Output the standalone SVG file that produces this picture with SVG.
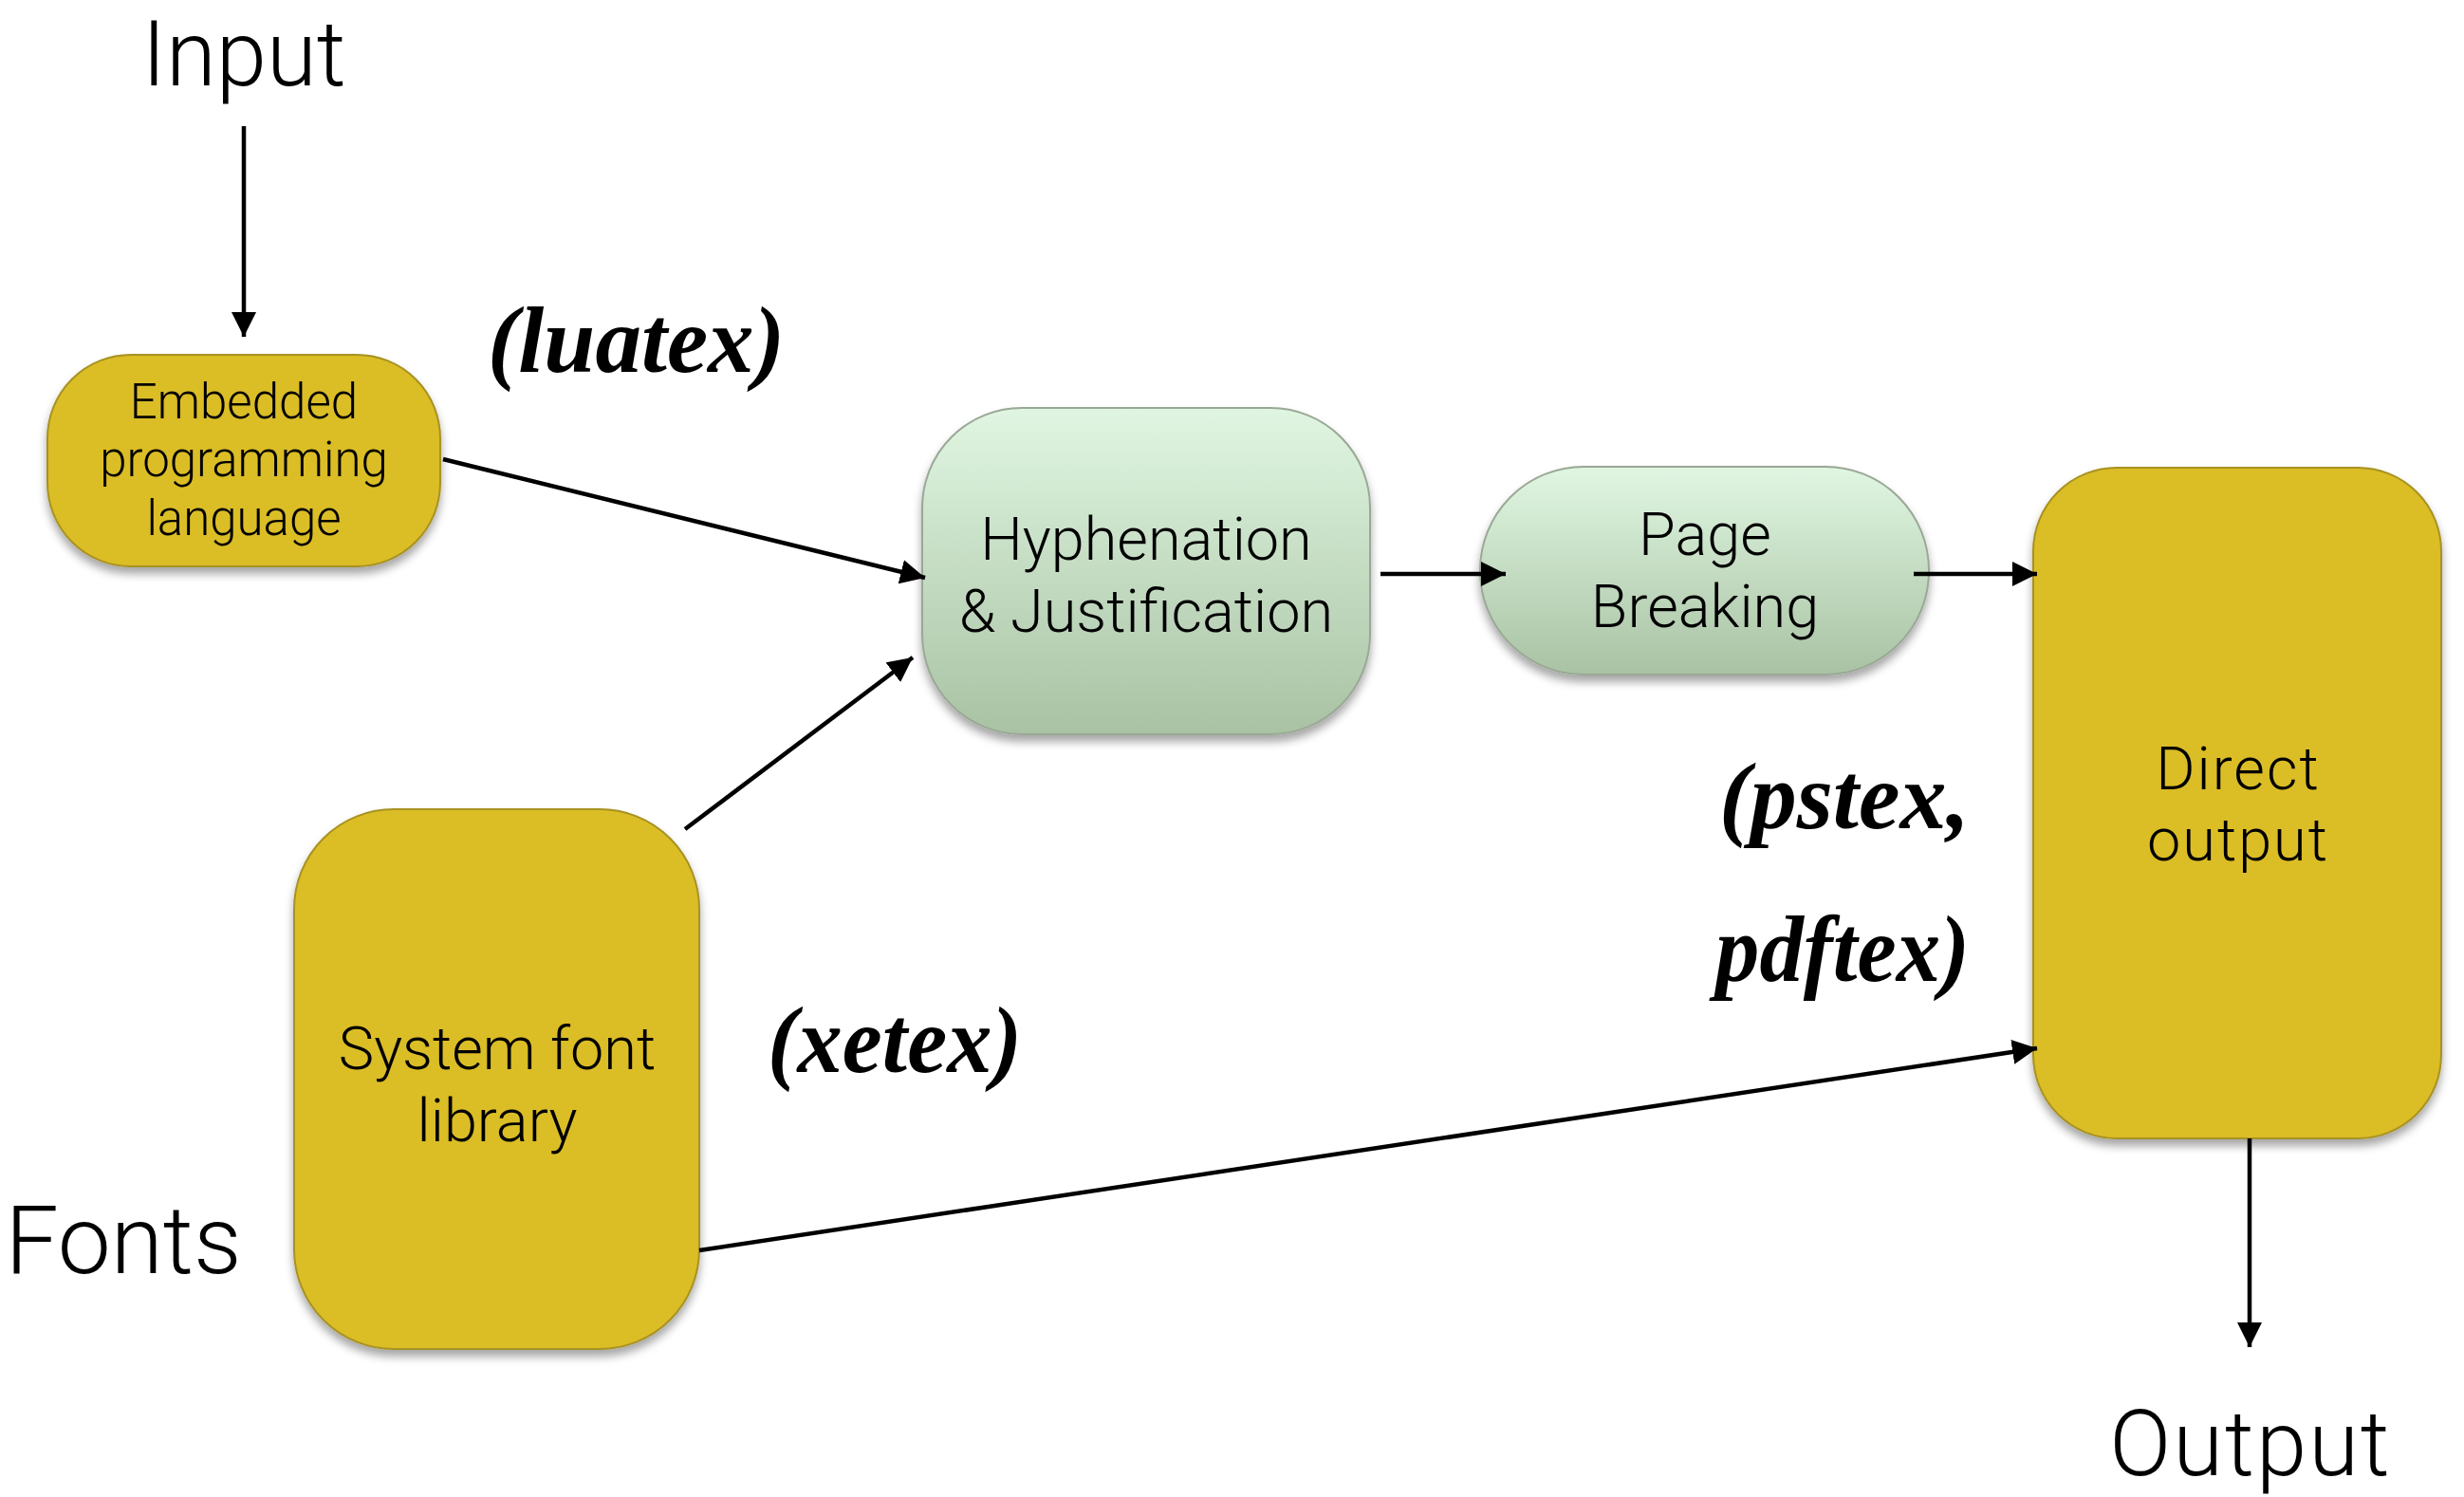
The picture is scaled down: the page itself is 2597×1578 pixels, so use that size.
<svg xmlns="http://www.w3.org/2000/svg" width="2597" height="1578" viewBox="0 0 2597 1578">
<style>
.lbl{font-family:Roboto,"Liberation Sans","DejaVu Sans",sans-serif;font-weight:300;fill:#000;text-anchor:middle}
.big{font-size:100px}
.edge{font-size:96px}
.node{font-size:63px}
.small{font-size:51px}
.hand{font-family:"Liberation Serif","DejaVu Serif",serif;font-weight:bold;font-style:italic;font-size:100px;fill:#000}
.yel{fill:#DBBD26;stroke:#A89222;stroke-width:2}
.grn{fill:url(#g);stroke:#9AA896;stroke-width:2}
.conn{stroke:#000;stroke-width:4.5;fill:none;marker-end:url(#arr)}
</style>
<defs>
<linearGradient id="g" x1="0" y1="0" x2="0" y2="1">
<stop offset="0" stop-color="#E0F6E2"/>
<stop offset="1" stop-color="#A9C2A3"/>
</linearGradient>
<filter id="sh" x="-10%" y="-10%" width="120%" height="125%">
<feDropShadow dx="0" dy="7" stdDeviation="5" flood-color="#000" flood-opacity="0.35"/>
</filter>
<marker id="arr" markerUnits="userSpaceOnUse" markerWidth="30" markerHeight="26" refX="26" refY="13" orient="auto">
<path d="M0,0 L26,13 L0,26 Z" fill="#000"/>
</marker>
</defs>
<rect width="2597" height="1578" fill="#fff"/>
<g id="labels">
<text class="lbl edge" x="257" y="90">Input</text>
<text class="lbl big" x="130" y="1342">Fonts</text>
<text class="lbl edge" x="2372" y="1555" letter-spacing="2">Output</text>
<text class="hand" x="514" y="392" textLength="313" lengthAdjust="spacingAndGlyphs">(luatex)</text>
<text class="hand" x="809" y="1130" textLength="268" lengthAdjust="spacingAndGlyphs">(xetex)</text>
<text class="hand" x="1812" y="873" textLength="264" lengthAdjust="spacingAndGlyphs">(pstex,</text>
<text class="hand" x="1808" y="1034" textLength="268" lengthAdjust="spacingAndGlyphs">pdftex)</text>
</g>
<g id="embedded">
<rect class="yel" filter="url(#sh)" x="50" y="374" width="414" height="223" rx="88" ry="88"/>
<text class="lbl small" x="257" y="441">Embedded</text>
<text class="lbl small" x="257" y="502">programming</text>
<text class="lbl small" x="257" y="564">language</text>
</g>
<g id="hyphenation">
<rect class="grn" filter="url(#sh)" x="972" y="430" width="472" height="344" rx="105" ry="105"/>
<text class="lbl node" x="1208" y="590">Hyphenation</text>
<text class="lbl node" x="1208" y="666">&amp; Justification</text>
</g>
<g id="page">
<rect class="grn" filter="url(#sh)" x="1560" y="492" width="473" height="219" rx="109" ry="109"/>
<text class="lbl node" x="1797" y="585">Page</text>
<text class="lbl node" x="1797" y="661">Breaking</text>
</g>
<g id="direct">
<rect class="yel" filter="url(#sh)" x="2143" y="493" width="430" height="707" rx="88" ry="88"/>
<text class="lbl node" x="2359" y="832" letter-spacing="2">Direct</text>
<text class="lbl node" x="2359" y="907" letter-spacing="2">output</text>
</g>
<g id="system">
<rect class="yel" filter="url(#sh)" x="310" y="853" width="427" height="569" rx="105" ry="105"/>
<text class="lbl node" x="524" y="1127">System font</text>
<text class="lbl node" x="524" y="1203">library</text>
</g>
<g id="connectors">
<line class="conn" x1="257" y1="133" x2="257" y2="355"/>
<line class="conn" x1="467" y1="484" x2="975" y2="609"/>
<line class="conn" x1="722" y1="874" x2="962" y2="693"/>
<line class="conn" x1="1455" y1="605" x2="1587" y2="605"/>
<line class="conn" x1="2017" y1="605" x2="2147" y2="605"/>
<line class="conn" x1="737" y1="1318" x2="2147" y2="1105"/>
<line class="conn" x1="2371" y1="1200" x2="2371" y2="1420"/>
</g>
</svg>
